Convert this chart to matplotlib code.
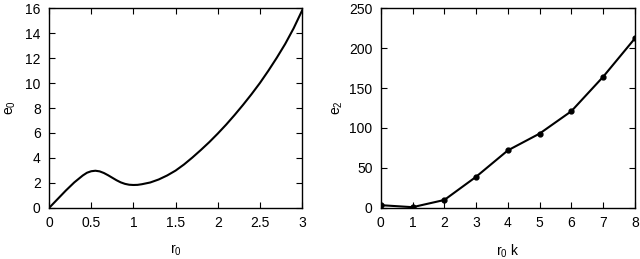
import numpy as np
import matplotlib
matplotlib.use('Agg')
import matplotlib.pyplot as plt

plt.rcParams['font.family'] = ['Liberation Sans', 'DejaVu Sans']
plt.rcParams['mathtext.fontset'] = 'custom'
plt.rcParams['mathtext.rm'] = 'Liberation Sans'
plt.rcParams['mathtext.it'] = 'Liberation Sans'

# left panel: e0 vs r0
r0 = [0.0, 0.1, 0.2, 0.3, 0.4, 0.45, 0.5, 0.55, 0.6, 0.65, 0.7, 0.75, 0.8,
      0.85, 0.9, 0.95, 1.0, 1.05, 1.1, 1.2, 1.3, 1.4, 1.5, 1.6, 1.7, 1.8,
      1.9, 2.0, 2.1, 2.2, 2.3, 2.4, 2.5, 2.6, 2.7, 2.8, 2.9, 3.0]
e0 = [0.0, 0.7, 1.4, 2.05, 2.6, 2.82, 2.94, 2.98, 2.93, 2.8, 2.62, 2.42, 2.22,
      2.05, 1.93, 1.86, 1.84, 1.85, 1.9, 2.04, 2.28, 2.6, 2.99, 3.48, 4.04, 4.64,
      5.27, 5.95, 6.67, 7.44, 8.25, 9.1, 10.0, 10.98, 12.02, 13.13, 14.38, 15.8]

# right panel: e2 vs r0 k
r0k = [0, 1, 2, 3, 4, 5, 6, 7, 8]
e2 = [3.5, 1.0, 10, 39, 72, 93, 121, 164, 212]

fig = plt.figure(figsize=(6.4, 2.59), dpi=100)
ax1 = fig.add_axes([0.0766, 0.197, 0.3954, 0.772])
ax2 = fig.add_axes([0.595, 0.197, 0.397, 0.772])

ax1.plot(r0, e0, color='black', lw=1.5)
ax1.set_xlim(0, 3)
ax1.set_ylim(0, 16)
ax1.set_xticks([0, 0.5, 1, 1.5, 2, 2.5, 3])
ax1.set_xticklabels(['0', '0.5', '1', '1.5', '2', '2.5', '3'])
ax1.set_yticks(range(0, 17, 2))
ax1.set_xlabel(r'r$_0$', fontsize=10, labelpad=9)
ax1.set_ylabel(r'e$_0$', fontsize=10, labelpad=5)

ax2.plot(r0k, e2, color='black', lw=1.5, marker='o', ms=3.5)
ax2.set_xlim(0, 8)
ax2.set_ylim(0, 250)
ax2.set_xticks(range(0, 9))
ax2.set_yticks(range(0, 251, 50))
ax2.set_xlabel(r'r$_0$ k', fontsize=10, labelpad=9)
ax2.set_ylabel(r'e$_2$', fontsize=10, labelpad=3)

for ax in (ax1, ax2):
    ax.tick_params(direction='in', top=True, right=True, length=4,
                   width=0.8, labelsize=10, pad=6)
    for s in ax.spines.values():
        s.set_linewidth(1.0)

fig.savefig('out.png', dpi=100)
